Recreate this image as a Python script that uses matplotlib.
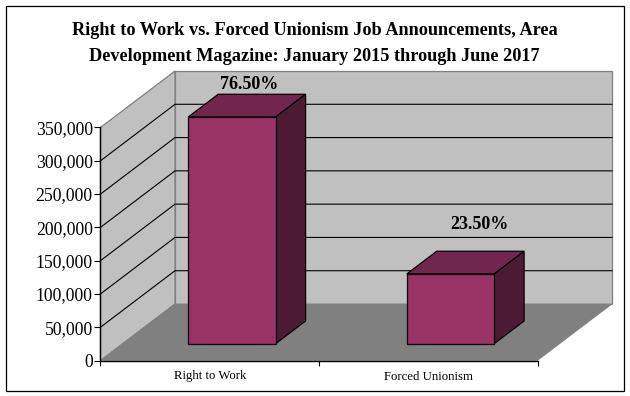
import matplotlib
matplotlib.use("Agg")
import matplotlib.pyplot as plt
from matplotlib.patches import Rectangle
from matplotlib.ticker import FuncFormatter

categories = ["Right to Work", "Forced Unionism"]
job_announcements = [340500, 104700]
share_labels = ["76.50%", "23.50%"]
y_ticks = [0, 50000, 100000, 150000, 200000, 250000, 300000, 350000]
title_lines = ["Right to Work vs. Forced Unionism Job Announcements, Area",
               "Development Magazine: January 2015 through June 2017"]

W, H = 630, 396
plt.rcParams["font.family"] = ["Liberation Serif", "DejaVu Serif"]
fig = plt.figure(figsize=(W / 100, H / 100), dpi=100, facecolor="white")

# front plane of the 3-D box, in pixels
L, R, B, T = 100.5, 537.5, 360.5, 127.5
ax = fig.add_axes([L / W, 1 - B / H, (R - L) / W, (B - T) / H])
ax.set_xlim(0, 2)
ax.set_ylim(0, 350000)
ax.patch.set_visible(False)

DX = 74.5 * 2 / (R - L)          # full depth in x units
DY = 56.5 * 350000 / (B - T)     # full depth in y units


def proj(x, y, d):
    return x + d * DX, y + d * DY


def face(corners, **kw):
    pts = [proj(*c) for c in corners]
    ax.fill([p[0] for p in pts], [p[1] for p in pts], clip_on=False, **kw)


ymax = y_ticks[-1]
# walls and floor
face([(0, 0, 1), (2, 0, 1), (2, ymax, 1), (0, ymax, 1)],
     fc="#C0C0C0", ec="#808080", lw=0.9, zorder=1)
face([(0, 0, 0), (0, 0, 1), (0, ymax, 1), (0, ymax, 0)],
     fc="#C0C0C0", ec="#808080", lw=0.9, zorder=1)
face([(0, 0, 0), (2, 0, 0), (2, 0, 1), (0, 0, 1)],
     fc="#808080", ec="#808080", lw=0.5, zorder=1.5)

# gridlines
for v in y_ticks[1:-1]:
    xs, ys = zip(proj(0, v, 0), proj(0, v, 1), proj(2, v, 1))
    ax.plot(xs, ys, color="black", lw=0.8, clip_on=False, zorder=2)

# bars
BAR_W = 0.4
D0, D1 = 0.3, 0.7
for i, v in enumerate(job_announcements):
    x0 = i + 0.5 - BAR_W / 2
    x1 = i + 0.5 + BAR_W / 2
    px, py = proj(x0, 0, D0)
    ax.bar(px, v, width=BAR_W, bottom=py, align="edge", color="#993366",
           edgecolor="black", lw=0.9, clip_on=False, zorder=5)
    face([(x0, v, D0), (x1, v, D0), (x1, v, D1), (x0, v, D1)],
         fc="#73264D", ec="black", lw=0.9, zorder=4)
    face([(x1, 0, D0), (x1, 0, D1), (x1, v, D1), (x1, v, D0)],
         fc="#4D1A33", ec="black", lw=0.9, zorder=4)

# value labels
label_offsets = [(-9.4, 0.8), (-0.7, 13.3)]
for i, v in enumerate(job_announcements):
    x, y = proj(i + 0.5, v, D1)
    ax.annotate(share_labels[i], (x, y), xytext=label_offsets[i],
                textcoords="offset points", ha="center", va="bottom",
                fontsize=13, fontweight="bold", color="black", zorder=6,
                annotation_clip=False)

# axes
for s in ("top", "right"):
    ax.spines[s].set_visible(False)
for s in ("left", "bottom"):
    ax.spines[s].set_linewidth(1.0)
    ax.spines[s].set_zorder(7)
ax.set_yticks(y_ticks)
ax.yaxis.set_major_formatter(FuncFormatter(lambda v, _: f"{int(v):,}"))
ax.tick_params(axis="y", length=4, width=0.8, labelsize=12.7, pad=1.5)
ax.set_xticks([0, 1, 2], labels=[])
ax.tick_params(axis="x", which="major", length=3.5, width=0.8)
ax.set_xticks([0.5, 1.5], labels=categories, minor=True)
ax.tick_params(axis="x", which="minor", length=0, labelsize=9.2, pad=7.2)

# title
for line, ypx in zip(title_lines, (30.5, 56.5)):
    fig.text(314.8 / W, 1 - ypx / H, line, ha="center", va="center",
             fontsize=13.15, fontweight="bold", color="black")

# outer frame
fig.add_artist(Rectangle((5.5 / W, 1 - 390.5 / H), 618 / W, 385 / H,
                         transform=fig.transFigure, fill=False,
                         ec="black", lw=0.9))

fig.savefig("out.png", dpi=100, facecolor="white")
